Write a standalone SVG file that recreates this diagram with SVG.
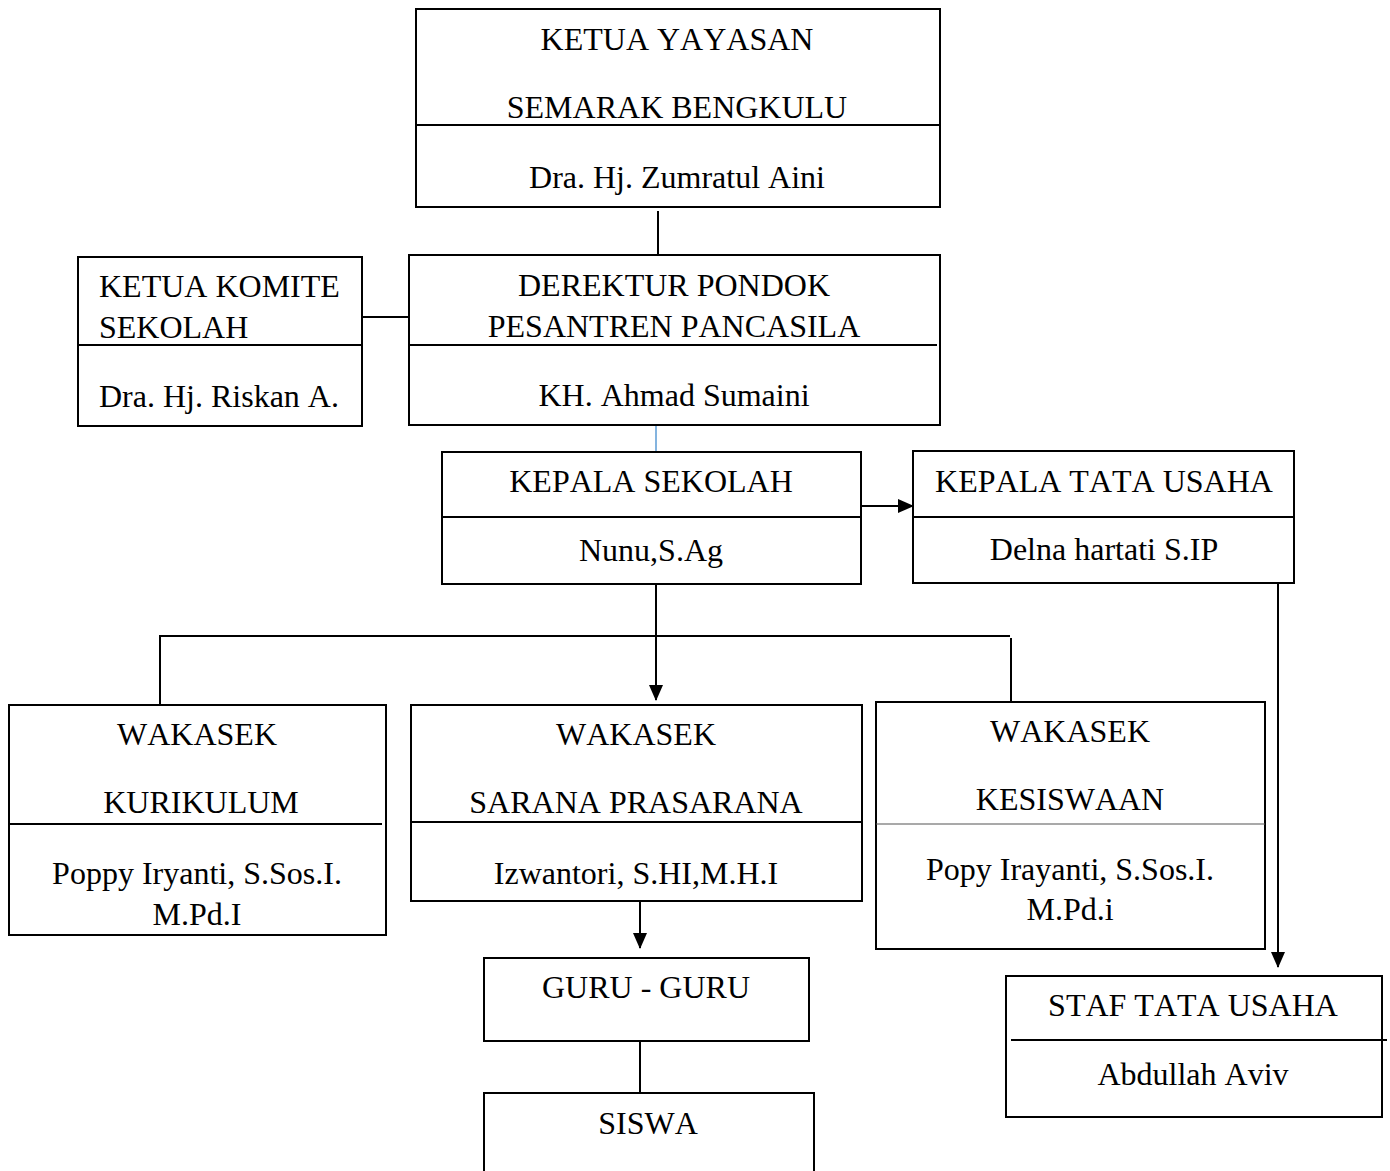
<svg xmlns="http://www.w3.org/2000/svg" width="1390" height="1171" viewBox="0 0 1390 1171">
<style>
.box{fill:#fff;stroke:#000;stroke-width:2}
.div{stroke:#000;stroke-width:2}
.ln{stroke:#000;stroke-width:2;fill:none}
text{font-family:"Liberation Serif","Times New Roman",serif;font-size:32px;fill:#000;font-kerning:none}
.c{text-anchor:middle}
</style>
<defs>
<marker id="ah2" markerWidth="16" markerHeight="16" refX="15" refY="8" orient="auto" markerUnits="userSpaceOnUse" viewBox="0 0 16 16">
<path d="M0,1 L16,8 L0,15 Z" fill="#000"/>
</marker>
</defs>
<rect width="1390" height="1171" fill="#fff"/>
<g id="connectors">
<line class="ln" x1="658" y1="211" x2="658" y2="255"/>
<line class="ln" x1="362" y1="317" x2="409" y2="317"/>
<line x1="656" y1="426" x2="656" y2="452" stroke="#5b9bd5" stroke-width="1.5"/>
<line class="ln" x1="861" y1="506" x2="913" y2="506" marker-end="url(#ah2)"/>
<line class="ln" x1="1278" y1="583" x2="1278" y2="967" marker-end="url(#ah2)"/>
<line class="ln" x1="656" y1="584" x2="656" y2="700" marker-end="url(#ah2)"/>
<polyline class="ln" points="160,705 160,636 1010,636"/>
<line class="ln" x1="1011" y1="638" x2="1011" y2="702"/>
<line class="ln" x1="640" y1="901" x2="640" y2="948" marker-end="url(#ah2)"/>
<line class="ln" x1="640" y1="1041" x2="640" y2="1093"/>
</g>
<g id="ketua-yayasan">
<rect class="box" x="416" y="9" width="524" height="198"/>
<line class="div" x1="416" y1="125" x2="940" y2="125"/>
<text class="c" x="677" y="50">KETUA YAYASAN</text>
<text class="c" x="677" y="118">SEMARAK BENGKULU</text>
<text class="c" x="677" y="188">Dra. Hj. Zumratul Aini</text>
</g>
<g id="ketua-komite">
<rect class="box" x="78" y="257" width="284" height="169"/>
<line class="div" x1="78" y1="345" x2="362" y2="345"/>
<text x="99" y="297">KETUA KOMITE</text>
<text x="99" y="338">SEKOLAH</text>
<text x="99" y="407">Dra. Hj. Riskan A.</text>
</g>
<g id="derektur">
<rect class="box" x="409" y="255" width="531" height="170"/>
<line class="div" x1="409" y1="345" x2="937" y2="345"/>
<text class="c" x="674" y="296">DEREKTUR PONDOK</text>
<text class="c" x="674" y="337">PESANTREN PANCASILA</text>
<text class="c" x="674" y="406">KH. Ahmad Sumaini</text>
</g>
<g id="kepala-sekolah">
<rect class="box" x="442" y="452" width="419" height="132"/>
<line class="div" x1="442" y1="517" x2="861" y2="517"/>
<text class="c" x="651" y="492">KEPALA SEKOLAH</text>
<text class="c" x="651" y="561">Nunu,S.Ag</text>
</g>
<g id="kepala-tu">
<rect class="box" x="913" y="451" width="381" height="132"/>
<line class="div" x1="913" y1="517" x2="1294" y2="517"/>
<text class="c" x="1104" y="492">KEPALA TATA USAHA</text>
<text class="c" x="1104" y="560">Delna hartati S.IP</text>
</g>
<g id="wakasek-kurikulum">
<rect class="box" x="9" y="705" width="377" height="230"/>
<line class="div" x1="9" y1="824" x2="382" y2="824"/>
<text class="c" x="197" y="745">WAKASEK</text>
<text class="c" x="201" y="813">KURIKULUM</text>
<text class="c" x="197" y="884">Poppy Iryanti, S.Sos.I.</text>
<text class="c" x="197" y="925">M.Pd.I</text>
</g>
<g id="wakasek-sarana">
<rect class="box" x="411" y="705" width="451" height="196"/>
<line class="div" x1="411" y1="822" x2="862" y2="822"/>
<text class="c" x="636" y="745">WAKASEK</text>
<text class="c" x="636" y="813">SARANA PRASARANA</text>
<text class="c" x="636" y="884">Izwantori, S.HI,M.H.I</text>
</g>
<g id="wakasek-kesiswaan">
<rect class="box" x="876" y="702" width="389" height="247"/>
<line x1="876" y1="824" x2="1265" y2="824" stroke="#555" stroke-width="1.2"/>
<text class="c" x="1070" y="742">WAKASEK</text>
<text class="c" x="1070" y="810">KESISWAAN</text>
<text class="c" x="1070" y="880">Popy Irayanti, S.Sos.I.</text>
<text class="c" x="1070" y="920">M.Pd.i</text>
</g>
<g id="guru">
<rect class="box" x="484" y="958" width="325" height="83"/>
<text class="c" x="646" y="998">GURU - GURU</text>
</g>
<g id="siswa">
<rect class="box" x="484" y="1093" width="330" height="90"/>
<text class="c" x="648" y="1134">SISWA</text>
</g>
<g id="staf-tu">
<rect class="box" x="1006" y="976" width="376" height="141"/>
<line class="div" x1="1011" y1="1040" x2="1387" y2="1040"/>
<text class="c" x="1193" y="1016">STAF TATA USAHA</text>
<text class="c" x="1193" y="1085">Abdullah Aviv</text>
</g>
</svg>
